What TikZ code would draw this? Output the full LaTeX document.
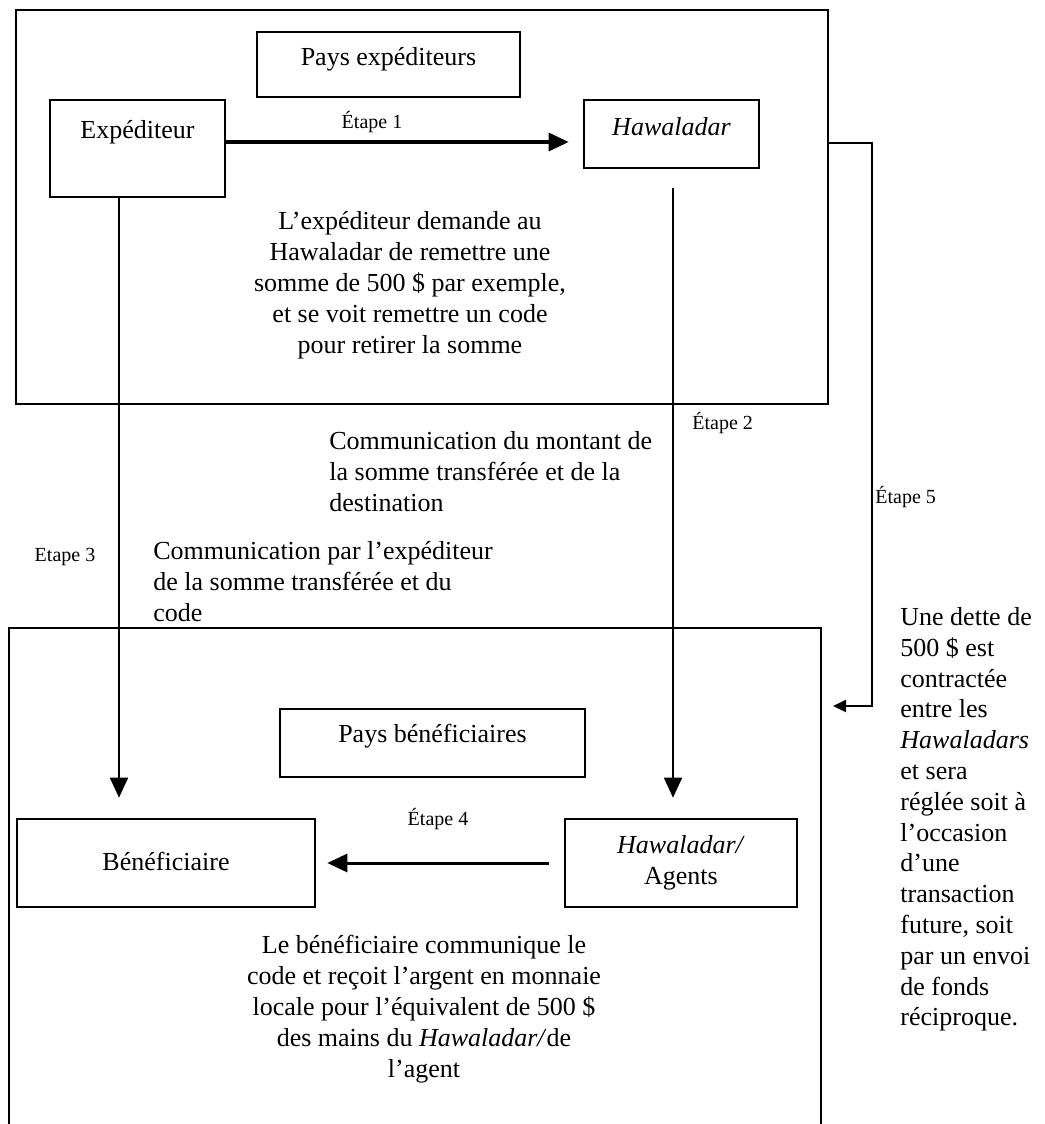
\documentclass[tikz,border=0pt]{standalone}
\usepackage{fontspec}
\setmainfont{Liberation Serif}
\usetikzlibrary{arrows.meta}
\tikzset{
	zone/.style={draw, line width=1pt, inner sep=0pt},
	boxed/.style={draw, line width=1.3pt, inner sep=0pt, font=\fontsize{13}{15.5}\selectfont},
	lift/.style={text height=9pt, text depth=#1},
	flow/.style={line width=0.9pt, -{Triangle[length=10pt,width=9pt]}},
	etape/.style={font=\fontsize{10}{12}\selectfont, inner sep=0pt},
	note/.style={font=\fontsize{13}{15.5}\selectfont, inner sep=0pt},
}
\begin{document}
\begin{tikzpicture}[x=0.5pt,y=-0.5pt]
	\useasboundingbox (0,0) rectangle (1044,1124);
	\clip (0,0) rectangle (1044,1124);
	\node[zone, minimum width=406pt, minimum height=197pt] (sendzone) at (422,207) {};
	\node[zone, minimum width=406pt, minimum height=290pt] (recvzone) at (415,918) {};
	\node[boxed, lift=8.5pt, minimum width=131.5pt, minimum height=32.5pt] (payssend) at (388.5,64.5) {Pays expéditeurs};
	\node[boxed, lift=19.5pt, minimum width=87.5pt, minimum height=48.5pt] (sender) at (137.5,148.5) {Expéditeur};
	\node[boxed, lift=8pt, minimum width=87.5pt, minimum height=34pt] (hawa) at (671.5,134) {\textit{Hawaladar}};
	\node[boxed, lift=10pt, minimum width=152.5pt, minimum height=34pt] (paysrecv) at (432.5,743) {Pays bénéficiaires};
	\node[boxed, lift=2pt, minimum width=149pt, minimum height=44pt] (benef) at (166,863) {Bénéficiaire};
	\node[boxed, align=center, minimum width=116pt, minimum height=44pt] (agents) at (681,863) {\textit{Hawaladar/}\\Agents};
	\node[note, anchor=north, align=center] (sendnote) at (410,211) {L'expéditeur demande au\\Hawaladar de remettre une\\somme de 500~\$ par exemple,\\et se voit remettre un code\\pour retirer la somme};
	\node[note, anchor=north west, align=left] (montant) at (329,431) {Communication du montant de\\la somme transférée et de la\\destination};
	\node[note, anchor=north west, align=left] (codeinfo) at (153,541) {Communication par l'expéditeur\\de la somme transférée et du\\code};
	\node[note, anchor=north, align=center] (recvnote) at (424,935) {Le bénéficiaire communique le\\code et reçoit l'argent en monnaie\\locale pour l'équivalent de 500~\$\\des mains du \textit{Hawaladar/}de\\l'agent};
	\node[note, anchor=north west, align=left, font=\fontsize{13}{15.4}\selectfont] (debtnote) at (900,607) {Une dette de\\500~\$ est\\contractée\\entre les\\\textit{Hawaladars}\\et sera\\réglée soit à\\l'occasion\\d'une\\transaction\\future, soit\\par un envoi\\de fonds\\réciproque.};
	\node[etape] (st1) at (372,122) {Étape 1};
	\node[etape, anchor=west] (st2) at (692,423) {Étape 2};
	\node[etape] (st3) at (65,557) {Etape 3};
	\node[etape] (st4) at (438,819) {Étape 4};
	\node[etape, anchor=west] (st5) at (875,497) {Étape 5};
	\coordinate (s3) at ([xshift=-9.25pt]sender.south);
	\coordinate (h2) at ([xshift=0.75pt,yshift=-9.5pt]hawa.south);
	\coordinate (e5) at ([yshift=32pt]sendzone.east);
	\coordinate (debt) at ([yshift=-39.5pt]recvzone.north east);
	\draw[flow, line width=1.6pt, shorten >=7pt] ([yshift=3.25pt]sender.east) -- ([yshift=-4pt]hawa.west);
	\draw[flow, shorten >=10pt] (s3) -- (s3 |- benef.north);
	\draw[flow, shorten >=10pt] (h2) -- (h2 |- agents.north);
	\draw[flow, line width=1.5pt, shorten <=7.5pt, shorten >=5.5pt] (agents.west) -- (benef.east);
	\draw[line width=1pt, -{Triangle[length=6.5pt,width=6pt]}, shorten >=5.5pt] (e5) -- ++(43,0) |- (debt);
\end{tikzpicture}
\end{document}
